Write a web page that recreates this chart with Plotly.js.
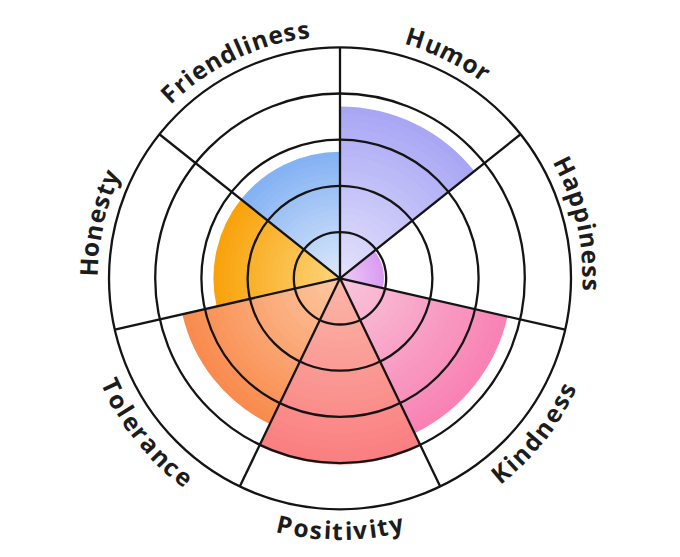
<!DOCTYPE html>
<html><head><meta charset="utf-8">
<script src="https://cdn.plot.ly/plotly-3.0.1.min.js"></script>
<style>html,body{margin:0;padding:0;background:#fff}</style>
</head><body>
<div id="chart" style="width:680px;height:557px"></div>
<script>
// ---- data ----
const categories = ['Humor', 'Happiness', 'Kindness', 'Positivity', 'Tolerance', 'Honesty', 'Friendliness'];
const values = [3.72, 0.95, 3.72, 4.03, 3.5, 2.74, 2.74];
const innerColors = ['#e6e4fc', '#efcdf9', '#f9c8de', '#fbb8aa', '#fdc9a4', '#fdd67e', '#dfeafb'];
const outerColors = ['#a9a7f4', '#d99cf1', '#f882b3', '#fa7f80', '#f98b4e', '#f9a30c', '#84b2f3'];
const radialTicks = [1, 2, 3, 4, 5];
const radialMax = 5;

// ---- geometry / style ----
const W = 680, H = 557;
const CX = 340, CY = 278.3, RAD = 231;
const CYB = H - CY;
const LINE = '#141414';
const n = categories.length;
const step = 360 / n;
const thetas = categories.map((c, i) => (i + 0.5) * step);
const boundaries = categories.map((c, i) => i * step);

function hex2rgb(h) { return [1, 3, 5].map(k => parseInt(h.slice(k, k + 2), 16)); }
function lerp(a, b, t) {
  const A = hex2rgb(a), B = hex2rgb(b);
  return 'rgb(' + A.map((v, i) => Math.round(v + (B[i] - v) * t)).join(',') + ')';
}

const LAYERS = 24;
const traces = [];
for (let k = LAYERS; k >= 1; k--) {
  const f = k / LAYERS;
  traces.push({
    type: 'barpolar', subplot: 'polar',
    r: values.map(v => v * f),
    theta: thetas,
    width: categories.map(() => step),
    text: categories,
    marker: { color: categories.map((c, i) => lerp(innerColors[i], outerColors[i], f)), line: { width: 0 } },
    hoverinfo: k === LAYERS ? 'text' : 'skip',
    showlegend: false
  });
}
// overlay subplot carrying the grid above the bars
traces.push({
  type: 'scatterpolar', subplot: 'polar2', r: [0], theta: [0], mode: 'markers',
  marker: { opacity: 0 }, hoverinfo: 'skip', showlegend: false
});

const domain = {
  x: [(CX - RAD) / W, (CX + RAD) / W],
  y: [(CYB - RAD) / H, (CYB + RAD) / H]
};

function radial(bg) {
  return {
    range: [0, radialMax], tickvals: radialTicks, showticklabels: false, ticks: '',
    showline: false, gridcolor: bg ? 'rgba(0,0,0,0)' : LINE, gridwidth: 2.3
  };
}
function angular(bg) {
  return {
    type: 'linear', rotation: 90, direction: 'clockwise', tickvals: boundaries,
    showticklabels: false, ticks: '', showline: !bg, linecolor: LINE, linewidth: 2.3,
    gridcolor: bg ? 'rgba(0,0,0,0)' : LINE, gridwidth: 2.3
  };
}

// ---- curved labels, one annotation per character ----
const FONT_SIZE = 24.5, LETTER_SP = 1.4, RTEXT = 252;
const cvs = document.createElement('canvas').getContext('2d');
cvs.font = "700 " + FONT_SIZE + "px 'Open Sans'";
const annotations = [];
categories.forEach((label, i) => {
  const a = thetas[i];
  const lower = a > 90 && a < 270;
  const chars = label.split('');
  const widths = chars.map(ch => cvs.measureText(ch).width);
  const total = widths.reduce((s, w) => s + w, 0) + LETTER_SP * (chars.length - 1);
  let cum = 0;
  chars.forEach((ch, j) => {
    const mid = cum + widths[j] / 2 - total / 2;
    cum += widths[j] + LETTER_SP;
    const dDeg = (mid / RTEXT) * 180 / Math.PI;
    const th = lower ? a - dDeg : a + dDeg;
    const rad = th * Math.PI / 180;
    const ang = lower ? th - 180 : (th > 180 ? th - 360 : th);
    annotations.push({
      xref: 'paper', yref: 'paper',
      x: (CX + RTEXT * Math.sin(rad)) / W,
      y: (CYB + RTEXT * Math.cos(rad)) / H,
      xanchor: 'center', yanchor: 'middle',
      text: ch, showarrow: false, textangle: ang,
      font: { family: 'Open Sans', size: FONT_SIZE, weight: 700, color: '#1c1c1c' }
    });
  });
});

const layout = {
  width: W, height: H, autosize: false,
  margin: { l: 0, r: 0, t: 0, b: 0, pad: 0 },
  paper_bgcolor: '#ffffff',
  showlegend: false,
  polar: { domain: domain, bgcolor: '#ffffff', barmode: 'overlay', bargap: 0,
           radialaxis: radial(true), angularaxis: angular(true) },
  polar2: { domain: domain, bgcolor: 'rgba(0,0,0,0)',
            radialaxis: radial(false), angularaxis: angular(false) },
  annotations: annotations
};

Plotly.newPlot('chart', traces, layout, { displayModeBar: false, staticPlot: true });
</script>
</body></html>
